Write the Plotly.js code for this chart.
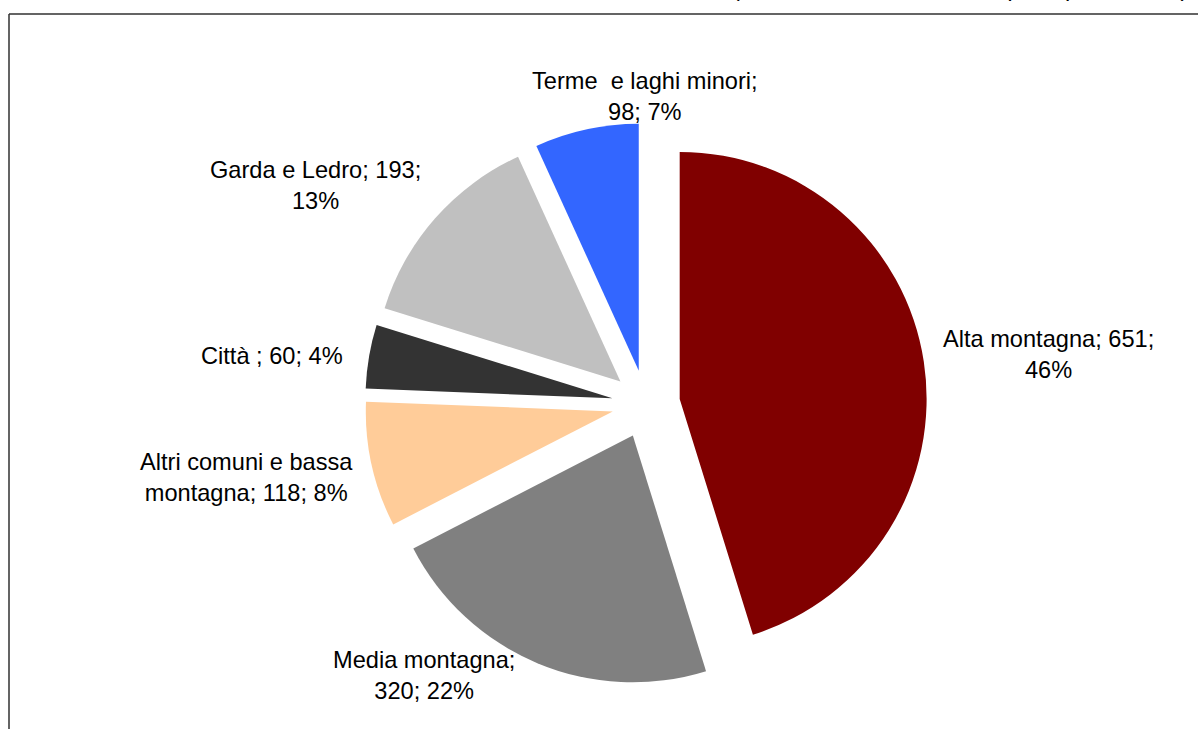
<!DOCTYPE html>
<html>
<head>
<meta charset="utf-8">
<script src="https://cdn.plot.ly/plotly-3.0.1.min.js"></script>
<style>
  html, body { margin: 0; padding: 0; background: #ffffff; }
  #chart { width: 1198px; height: 729px; }
</style>
</head>
<body>
<div id="chart"></div>
<script>
// ---- data ----
const labels = ['Alta montagna', 'Media montagna', 'Altri comuni e bassa montagna', 'Città ', 'Garda e Ledro', 'Terme \u00a0e laghi minori'];
const values = [651, 320, 118, 60, 193, 98];
const percents = [46, 22, 8, 4, 13, 7];
const colors = ['#800000', '#808080', '#FFCC99', '#333333', '#C0C0C0', '#3366FF'];
const subtitle = '(valori in milioni di euro e quote percentuali)';

// label layout (line breaks and positions, in pixels of the 1198x729 page)
const displayNames = ['Alta montagna', 'Media montagna', 'Altri comuni e bassa<br>montagna', 'Città ', 'Garda e Ledro', 'Terme \u00a0e laghi minori'];
const breakAfter = [2, 1, -1, -1, 2, 1];
const labelPos = [[1048, 354], [424, 675], [246, 477], [272, 356], [315, 185], [645, 96]];

const W = 1198, H = 729;
const CX = 646, CY = 404, BOX = 562;

function labelText(i) {
  const parts = [displayNames[i], String(values[i]), percents[i] + '%'];
  let s = '';
  for (let k = 0; k < parts.length; k++) {
    s += parts[k];
    if (k < parts.length - 1) s += (breakAfter[i] === k + 1) ? ';<br>' : '; ';
  }
  return s;
}

const pull = 0.138;
const trace = {
  type: 'pie',
  labels: labels,
  values: values,
  sort: false,
  direction: 'clockwise',
  rotation: 0,
  pull: values.map(() => pull),
  marker: { colors: colors, line: { width: 0 } },
  textinfo: 'none',
  hoverinfo: 'skip',
  showlegend: false,
  domain: { x: [(CX - 400) / W, (CX + 400) / W], y: [1 - (CY + BOX / 2) / H, 1 - (CY - BOX / 2) / H] }
};

const FONT = { family: 'Liberation Sans, Arial, sans-serif', size: 23.6, color: '#000000' };

const annotations = labels.map((l, i) => ({
  xref: 'paper', yref: 'paper',
  x: labelPos[i][0] / W, y: 1 - labelPos[i][1] / H,
  xanchor: 'center', yanchor: 'middle',
  text: labelText(i),
  showarrow: false,
  align: 'center',
  font: FONT
}));

annotations.push({
  xref: 'paper', yref: 'paper',
  x: 1190 / W, y: 1 - 3.5 / H,
  xanchor: 'right', yanchor: 'bottom',
  text: subtitle,
  showarrow: false,
  font: FONT
});

const layout = {
  width: W, height: H,
  margin: { l: 0, r: 0, t: 0, b: 0 },
  paper_bgcolor: '#ffffff',
  plot_bgcolor: '#ffffff',
  hovermode: false,
  showlegend: false,
  annotations: annotations,
  shapes: [
    { type: 'line', xref: 'paper', yref: 'paper', x0: 9 / W, x1: 1.01, y0: 1 - 14 / H, y1: 1 - 14 / H, line: { color: '#303030', width: 1.5 } },
    { type: 'line', xref: 'paper', yref: 'paper', x0: 9 / W, x1: 9 / W, y0: 1 - 14 / H, y1: -0.01, line: { color: '#303030', width: 1.5 } }
  ]
};

Plotly.newPlot('chart', [trace], layout, { displayModeBar: false, staticPlot: true });
</script>
</body>
</html>
